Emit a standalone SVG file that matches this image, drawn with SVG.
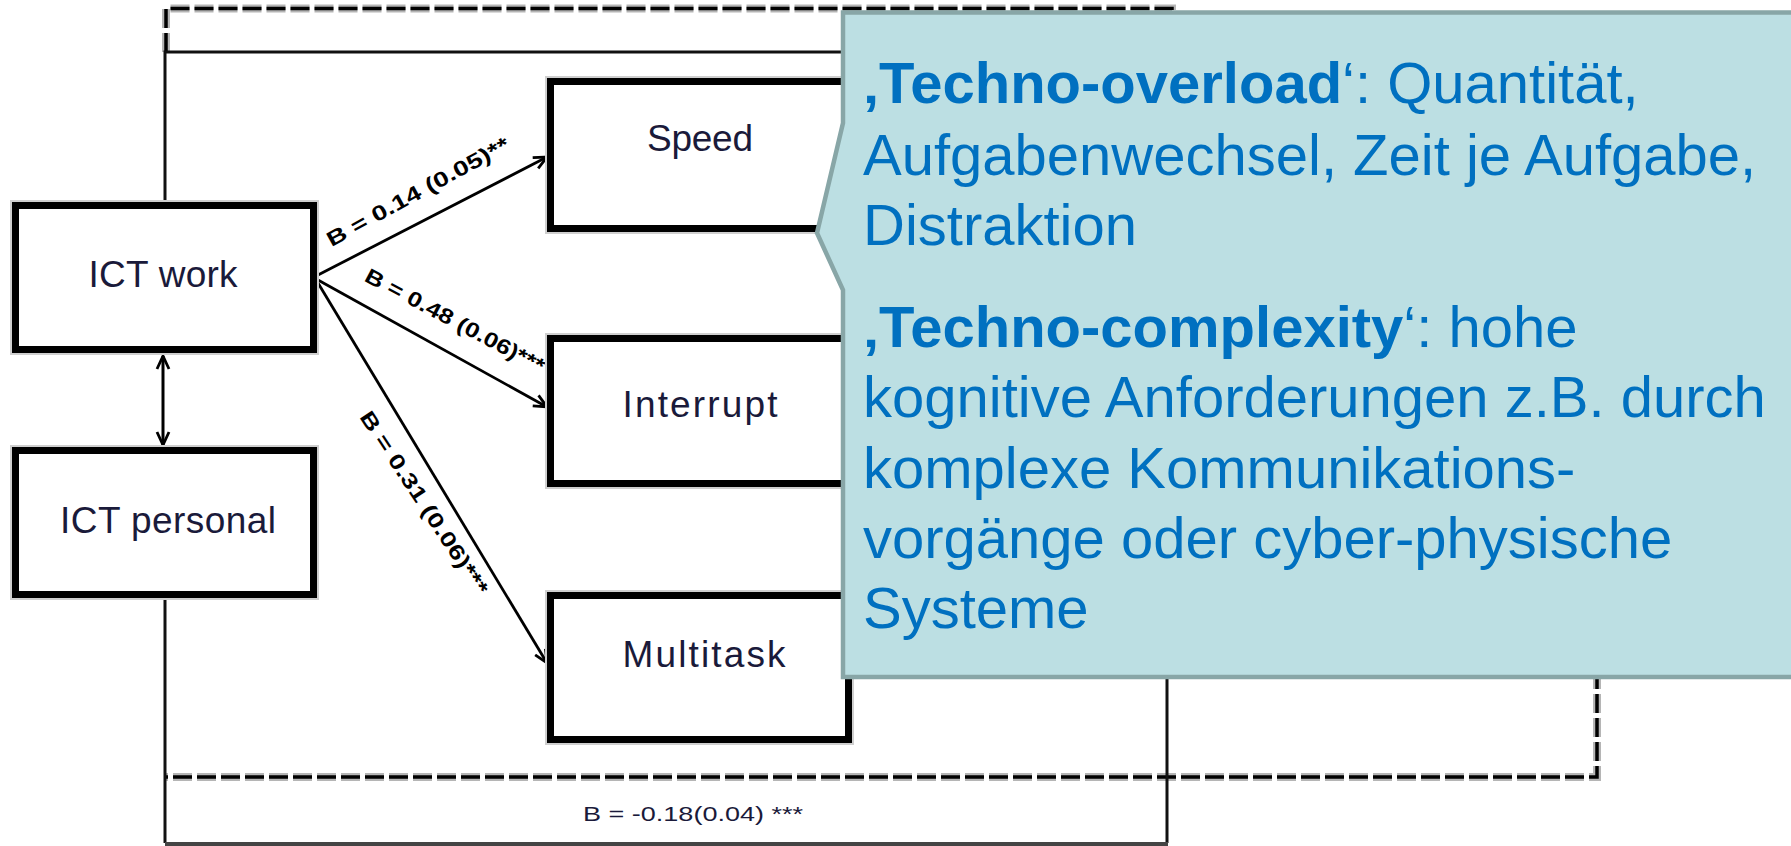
<svg xmlns="http://www.w3.org/2000/svg" width="1791" height="846" viewBox="0 0 1791 846">
<style>
.box{fill:#fff;stroke:#000;stroke-width:7}
.halo{fill:none;stroke:#cfcfcf;stroke-width:11}
.lbl{font-family:"Liberation Sans",Arial,sans-serif;font-size:37px;fill:#1a1a3a;text-anchor:middle}
.elbl{font-family:"Liberation Sans",Arial,sans-serif;font-size:21px;font-weight:bold;fill:#000;text-anchor:middle}
.wire{fill:none;stroke:#111;stroke-width:3}
.arr{fill:none;stroke:#000;stroke-width:2.8;marker-end:url(#ah)}
.dashU{fill:none;stroke:#b5b5b5;stroke-width:8;stroke-dasharray:19 5}
.dashB{fill:none;stroke:#000;stroke-width:3.5;stroke-dasharray:19 5}
.ct{font-family:"Liberation Sans",Arial,sans-serif;font-size:58px;fill:#0070c0}
.b{font-weight:bold}
</style>
<defs>
<marker id="ah" markerUnits="userSpaceOnUse" markerWidth="16" markerHeight="16" refX="14" refY="7" orient="auto-start-reverse" viewBox="0 0 16 14">
<path d="M1,1 L14,7 L1,13" fill="none" stroke="#000" stroke-width="2.8"/>
</marker>
</defs>
<rect width="1791" height="846" fill="#fff"/>
<g id="connectors">
<path class="dashU" d="M166,52 V8.5 H1172 V300 H1597 V777 H166"/>
<path class="dashB" d="M166,52 V8.5 H1172 V300 H1597 V777 H166"/>
<path class="wire" d="M165,202 V52 H1167 V843"/>
<path class="wire" d="M165,598 V843"/>
<line x1="165" y1="844" x2="1168" y2="844" stroke="#444" stroke-width="4"/>
<line x1="163" y1="356" x2="163" y2="445" fill="none" stroke="#000" stroke-width="3" marker-start="url(#ah)" marker-end="url(#ah)"/>
<line class="arr" x1="318" y1="275" x2="547" y2="157"/>
<line class="arr" x1="318" y1="280" x2="547" y2="407"/>
<line class="arr" x1="318" y1="283" x2="547" y2="663"/>
<g transform="translate(418,192) rotate(-28.7)"><text class="elbl" x="0" y="7" textLength="205" lengthAdjust="spacingAndGlyphs">B = 0.14 (0.05)**</text></g>
<g transform="translate(455,321) rotate(27.9)"><text class="elbl" x="0" y="7" textLength="200" lengthAdjust="spacingAndGlyphs">B = 0.48 (0.06)***</text></g>
<g transform="translate(424,503) rotate(56.6)"><text class="elbl" x="0" y="7" textLength="215" lengthAdjust="spacingAndGlyphs">B = 0.31 (0.06)***</text></g>
<text x="693" y="821" font-family="'Liberation Sans',Arial,sans-serif" font-size="21" fill="#1a1a3a" text-anchor="middle" textLength="220" lengthAdjust="spacingAndGlyphs">B = -0.18(0.04) ***</text>
</g>
<g id="node-ict-work">
<rect class="halo" x="15.5" y="205.5" width="298" height="144"/>
<rect class="box" x="15.5" y="205.5" width="298" height="144"/>
<text class="lbl" x="163" y="287" textLength="149">ICT work</text>
</g>
<g id="node-ict-personal">
<rect class="halo" x="15.5" y="450.5" width="298" height="144"/>
<rect class="box" x="15.5" y="450.5" width="298" height="144"/>
<text class="lbl" x="168" y="533" textLength="216">ICT personal</text>
</g>
<g id="node-speed">
<rect class="halo" x="550.5" y="81.5" width="298" height="147"/>
<rect class="box" x="550.5" y="81.5" width="298" height="147"/>
<text class="lbl" x="700" y="151" textLength="106">Speed</text>
</g>
<g id="node-interrupt">
<rect class="halo" x="550.5" y="338.5" width="298" height="145"/>
<rect class="box" x="550.5" y="338.5" width="298" height="145"/>
<text class="lbl" x="700" y="417" textLength="155">Interrupt</text>
</g>
<g id="node-multitask">
<rect class="halo" x="550.5" y="595.5" width="298" height="144"/>
<rect class="box" x="550.5" y="595.5" width="298" height="144"/>
<text class="lbl" x="704" y="667" textLength="163">Multitask</text>
</g>
<g id="callout">
<polygon points="843,12.5 1800,12.5 1800,677 843,677 843,290 817,233 843,123" fill="#bcdfe3" stroke="#88a6a7" stroke-width="4.5"/>
<text class="ct" x="863" y="103"><tspan class="b">‚Techno-overload</tspan>‘: Quantität,</text>
<text class="ct" x="863" y="175">Aufgabenwechsel, Zeit je Aufgabe,</text>
<text class="ct" x="863" y="245">Distraktion</text>
<text class="ct" x="863" y="347"><tspan class="b">‚Techno-complexity</tspan>‘: hohe</text>
<text class="ct" x="863" y="417">kognitive Anforderungen z.B. durch</text>
<text class="ct" x="863" y="488">komplexe Kommunikations-</text>
<text class="ct" x="863" y="558">vorgänge oder cyber-physische</text>
<text class="ct" x="863" y="628">Systeme</text>
</g>
</svg>
